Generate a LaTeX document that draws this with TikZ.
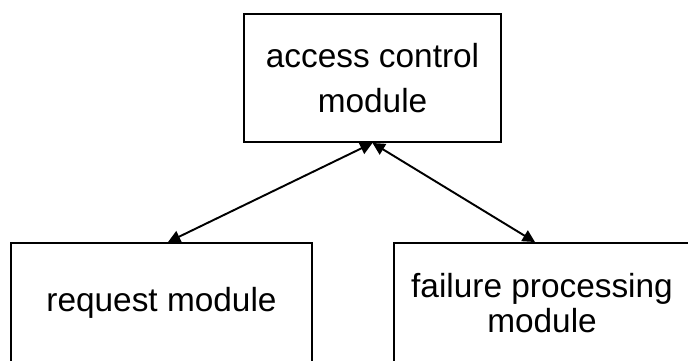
\documentclass[tikz,border=0pt]{standalone}
\usepackage{fontspec}
\setmainfont{Liberation Sans}
\usetikzlibrary{arrows.meta}
\begin{document}
\begin{tikzpicture}[x=0.02cm,y=-0.02cm,line width=1.1pt,
    box/.style={draw,align=center,inner sep=0pt,font=\fontsize{19}{25.6}\selectfont},
    link/.style={{Triangle[length=7pt,width=7pt]}-{Triangle[length=7pt,width=7pt]}}]
    \useasboundingbox (0,0) rectangle (688,360);
    \node[box,minimum width=5.14cm,minimum height=2.56cm] (acc) at (372.5,78) {access control\\module};
    \node[box,minimum width=6.02cm,minimum height=2.4cm] (req) at (161.5,303) {request module};
    \node[box,minimum width=5.92cm,minimum height=2.4cm,font=\fontsize{19}{20}\selectfont] (fail) at (542,303) {failure processing\\module};
    \draw[link] (acc.south) -- ([xshift=.13cm]req.north);
    \draw[link] (acc.south) -- ([xshift=-.14cm]fail.north);
\end{tikzpicture}
\end{document}
